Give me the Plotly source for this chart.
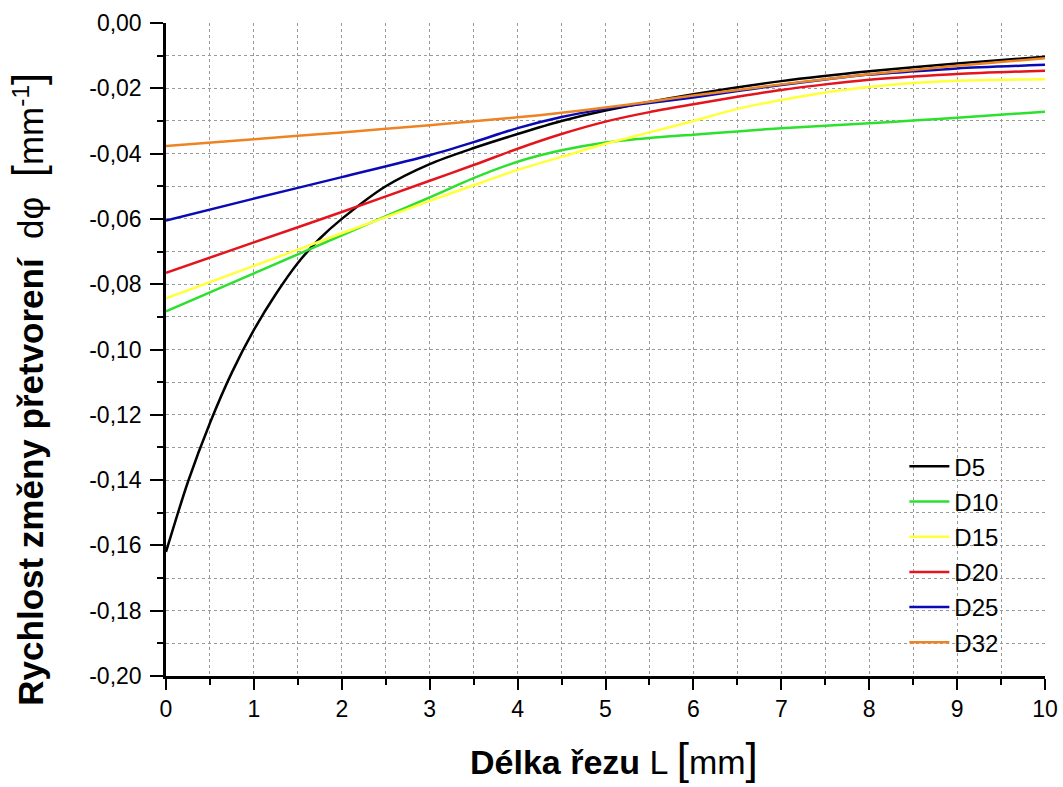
import plotly.graph_objects as go

# Cut length L [mm]
x_d5 = [0, 0.25, 0.5, 0.75, 1, 1.25, 1.5, 1.75, 2, 2.5, 3, 3.5, 4, 4.5, 5, 6, 7, 8, 9, 10]
y_d5 = [-0.162, -0.1405, -0.1225, -0.107, -0.094, -0.083, -0.0735, -0.066, -0.060, -0.050,
        -0.0432, -0.0383, -0.034, -0.030, -0.0268, -0.0218, -0.0178, -0.0148, -0.0124, -0.0103]

x_std = [0, 1, 2, 3, 3.5, 4, 4.5, 5, 5.5, 6, 6.5, 7, 7.5, 8, 8.5, 9, 10]
y_d10 = [-0.0883, -0.0767, -0.065, -0.0534, -0.0475, -0.0425, -0.0390, -0.0366, -0.0352, -0.0342,
         -0.0332, -0.0322, -0.0315, -0.0307, -0.0299, -0.0290, -0.0272]
y_d15 = [-0.0843, -0.0744, -0.0644, -0.0545, -0.0497, -0.0450, -0.0410, -0.0370, -0.0335, -0.0300,
         -0.0263, -0.0236, -0.0213, -0.0196, -0.0184, -0.0177, -0.0172]
y_d20 = [-0.0765, -0.0672, -0.0579, -0.0483, -0.0435, -0.0385, -0.0340, -0.0302, -0.0273, -0.0249,
         -0.0226, -0.0205, -0.0188, -0.0174, -0.0164, -0.0156, -0.0146]
y_d25 = [-0.0605, -0.0538, -0.0472, -0.0405, -0.0365, -0.0322, -0.0288, -0.0263, -0.0245, -0.0228,
         -0.0208, -0.0190, -0.0173, -0.0158, -0.0148, -0.0139, -0.0128]
y_d32 = [-0.0377, -0.0356, -0.0335, -0.0313, -0.0301, -0.0289, -0.0275, -0.0259, -0.0241, -0.0222,
         -0.0205, -0.0188, -0.0172, -0.0157, -0.0144, -0.0131, -0.0108]

series_names = ["D5", "D10", "D15", "D20", "D25", "D32"]
series_colors = ["#000000", "#2ee02e", "#ffff3a", "#e4141c", "#0a0ab4", "#ec8424"]

x_tick_vals = list(range(0, 11))
x_tick_text = [str(v) for v in x_tick_vals]
y_tick_vals = [0.0, -0.02, -0.04, -0.06, -0.08, -0.10, -0.12, -0.14, -0.16, -0.18, -0.20]
y_tick_text = ["0,00", "-0,02", "-0,04", "-0,06", "-0,08", "-0,10", "-0,12", "-0,14",
               "-0,16", "-0,18", "-0,20"]

FONT = "Liberation Sans, Arial, sans-serif"

fig = go.Figure()
series = [(x_d5, y_d5), (x_std, y_d10), (x_std, y_d15), (x_std, y_d20), (x_std, y_d25), (x_std, y_d32)]
for (xs, ys), name, color in zip(series, series_names, series_colors):
    fig.add_trace(go.Scatter(
        x=xs, y=ys, mode="lines", name=name, legendgroup=name,
        line=dict(color=color, width=2.5, shape="spline", smoothing=0.8),
    ))

grid_style = dict(showgrid=True, gridcolor="#9a9a9a", gridwidth=1, griddash="dot")

fig.update_layout(
    width=1063, height=787,
    margin=dict(l=166, r=18, t=23, b=111, autoexpand=False),
    paper_bgcolor="white", plot_bgcolor="white",
    font=dict(family=FONT, color="black"),
    showlegend=True,
    legend=dict(
        x=0.84, y=0.355, xanchor="left", yanchor="top",
        bgcolor="rgba(0,0,0,0)", borderwidth=0,
        font=dict(size=24, family=FONT),
        tracegroupgap=1, itemwidth=40,
    ),
    xaxis=dict(
        range=[0, 10], tickmode="array", tickvals=x_tick_vals, ticktext=x_tick_text,
        ticks="outside", ticklen=11, tickwidth=2, tickcolor="black",
        tickfont=dict(size=23), ticklabelstandoff=0, automargin=False,
        showline=True, linecolor="black", linewidth=2.5, zeroline=False,
        minor=dict(dtick=0.5, ticks="outside", ticklen=6, tickwidth=2, tickcolor="black",
                   showgrid=True, gridcolor="#9a9a9a", gridwidth=1, griddash="dot"),
        **grid_style,
    ),
    yaxis=dict(
        range=[-0.2, 0], tickmode="array", tickvals=y_tick_vals, ticktext=y_tick_text,
        ticks="outside", ticklen=13, tickwidth=2, tickcolor="black",
        tickfont=dict(size=23), ticklabelstandoff=4, automargin=False,
        showline=True, linecolor="black", linewidth=2.5, zeroline=False,
        minor=dict(dtick=0.01, tick0=0, ticks="outside", ticklen=6, tickwidth=2, tickcolor="black",
                   showgrid=True, gridcolor="#9a9a9a", gridwidth=1, griddash="dot"),
        **grid_style,
    ),
    xaxis2=dict(
        range=[0, 10], overlaying="x", side="top", anchor="y", automargin=False,
        tickmode="linear", tick0=0, dtick=1, ticks="inside", ticklen=12, tickwidth=2,
        tickcolor="black", showticklabels=False, showgrid=False, zeroline=False,
        showline=True, linecolor="black", linewidth=2.5,
        minor=dict(dtick=0.5, ticks="inside", ticklen=7, tickwidth=2, tickcolor="black"),
    ),
    yaxis2=dict(
        range=[-0.2, 0], overlaying="y", side="right", anchor="x", automargin=False,
        tickmode="linear", tick0=0, dtick=0.02, ticks="inside", ticklen=12, tickwidth=2,
        tickcolor="black", showticklabels=False, showgrid=False, zeroline=False,
        showline=True, linecolor="black", linewidth=2.5,
        minor=dict(dtick=0.01, tick0=0, ticks="inside", ticklen=6, tickwidth=2, tickcolor="black"),
    ),
)

# Axis titles
big = "font-size:44px"
fig.add_annotation(
    xref="paper", yref="paper", x=0.51, y=-0.127, xanchor="center", yanchor="middle",
    showarrow=False, font=dict(size=34, family=FONT, color="black"),
    text="<b>Délka řezu</b> L <span style='%s'>[</span>mm<span style='%s'>]</span>" % (big, big),
)
fig.add_annotation(
    xref="paper", yref="paper", x=-0.157, y=0.44, xanchor="center", yanchor="middle",
    showarrow=False, textangle=-90,
    font=dict(size=35, family=FONT, color="black"),
    text="<b>Rychlost změny přetvorení</b>\u00a0 dφ \u00a0<span style='%s'>[</span>mm<sup>-1</sup><span style='%s'>]</span>" % (big, big),
)

fig.write_html("out.html")
